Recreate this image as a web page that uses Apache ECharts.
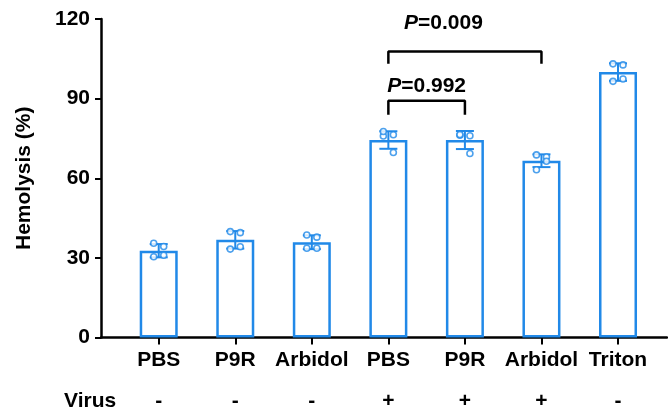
<!DOCTYPE html>
<html>
<head>
<meta charset="utf-8">
<script src="https://cdn.jsdelivr.net/npm/echarts@6/dist/echarts.min.js"></script>
<style>html,body{margin:0;padding:0;background:#fff}#c{width:668px;height:416px}</style>
</head>
<body>
<div id="c"></div>
<script>
// ==================== DATA ====================
const groups=['PBS','P9R','Arbidol','PBS','P9R','Arbidol','Triton'];
const virus=['-','-','-','+','+','+','-'];
const means=[32.7,36.8,35.9,74.4,74.4,66.6,100.0];
const sds=[2.5,3.3,2.6,3.3,3.4,2.4,3.3];
const points=[
  [35.5,34.3,30.4,31.0],
  [39.9,39.5,33.3,34.2],
  [38.6,37.8,33.6,33.6],
  [75.9,76.4,77.6,69.7],
  [76.2,76.0,76.5,69.3],
  [68.8,68.0,63.2,66.4],
  [103.1,102.7,96.5,97.4]
];
const yTicks=[0,30,60,90,120];
// significance brackets (x in group index, y in %)
const brackets=[
  {from:3,to:4,top:89.2,foot:83.9,p:'0.992',tx:3.5,ty:94.8},
  {from:3,to:5,top:107.8,foot:103.1,p:'0.009',tx:3.72,ty:118.6}
];

// ==================== CHART ====================
const blue='#2189E8', ink='#000';
const font='Arial, "Liberation Sans", sans-serif';
const fs=21;
const jitter=[-5,5,-5,5];
const idx=groups.map((g,i)=>i);
const xMin=-0.754, xMax=6.64;

const series=[];
series.push({type:'bar',xAxisIndex:0,data:means.map((m,i)=>[i,m]),barWidth:38,
  itemStyle:{color:'#fff',borderColor:blue,borderWidth:2.5},z:2});

series.push({type:'custom',xAxisIndex:0,data:means.map((m,i)=>[i,m,sds[i]]),z:4,
  renderItem:(params,api)=>{
    const x=api.value(0), m=api.value(1), s=api.value(2);
    const hi=api.coord([x,m+s]), lo=api.coord([x,m-s]);
    const st={stroke:blue,lineWidth:2};
    return {type:'group',children:[
      {type:'line',shape:{x1:hi[0],y1:hi[1],x2:lo[0],y2:lo[1]},style:st},
      {type:'line',shape:{x1:hi[0]-9,y1:hi[1],x2:hi[0]+9,y2:hi[1]},style:st},
      {type:'line',shape:{x1:lo[0]-9,y1:lo[1],x2:lo[0]+9,y2:lo[1]},style:st}
    ]};
  }});

const pts=[];
points.forEach((arr,i)=>arr.forEach((v,k)=>pts.push({value:[i,v],symbolOffset:[jitter[k],0]})));
series.push({type:'scatter',xAxisIndex:0,data:pts,symbol:'circle',symbolSize:6,z:5,
  itemStyle:{color:'#fff',borderColor:blue,borderWidth:1.6}});

brackets.forEach(b=>{
  series.push({type:'line',xAxisIndex:0,symbol:'none',z:6,
    data:[[b.from,b.foot],[b.from,b.top],[b.to,b.top],[b.to,b.foot]],
    lineStyle:{color:ink,width:2.5}});
});

// P-value texts
series.push({type:'custom',xAxisIndex:0,z:7,data:brackets.map(b=>[b.tx,b.ty]),
  renderItem:(params,api)=>{
    const p=api.coord([api.value(0),api.value(1)]);
    return {type:'text',x:p[0],y:p[1],style:{
      text:'{i|P}{n|='+brackets[params.dataIndex].p+'}',
      align:'center',verticalAlign:'middle',fill:ink,
      rich:{i:{fontStyle:'italic',fontWeight:'bold',fontSize:fs,fontFamily:font,fill:ink},
            n:{fontWeight:'bold',fontSize:fs,fontFamily:font,fill:ink}}}};
  }});

const labelStyle={color:ink,fontSize:fs,fontWeight:'bold',fontFamily:font};

const option={
  animation:false,
  backgroundColor:'#fff',
  grid:{left:101,right:1,top:19,bottom:78.5},
  xAxis:[
    {type:'value',min:xMin,max:xMax,position:'bottom',
      axisLine:{onZero:false,lineStyle:{color:ink,width:2.5}},
      axisTick:{customValues:idx,length:7,lineStyle:{color:ink,width:2}},
      axisLabel:Object.assign({customValues:idx,margin:12,formatter:v=>groups[Math.round(v)]},labelStyle),
      splitLine:{show:false}},
    {type:'value',min:xMin,max:xMax,position:'bottom',
      axisLine:{show:false,onZero:false},axisTick:{show:false},
      axisLabel:Object.assign({customValues:idx,margin:53,formatter:v=>virus[Math.round(v)]},labelStyle),
      splitLine:{show:false}}
  ],
  yAxis:{type:'value',min:0,max:120,interval:30,
    name:'Hemolysis (%)',nameLocation:'middle',nameGap:66,
    nameTextStyle:labelStyle,
    axisLine:{show:true,onZero:false,lineStyle:{color:ink,width:2.5}},
    axisTick:{show:true,length:6,lineStyle:{color:ink,width:2}},
    axisLabel:Object.assign({margin:11},labelStyle),
    splitLine:{show:false}},
  graphic:[{type:'text',left:64,top:391,style:{text:'Virus',font:'bold '+fs+'px '+font,fill:ink}}],
  series
};

const chart=echarts.init(document.getElementById('c'),null,{renderer:'canvas'});
chart.setOption(option);
</script>
</body>
</html>
